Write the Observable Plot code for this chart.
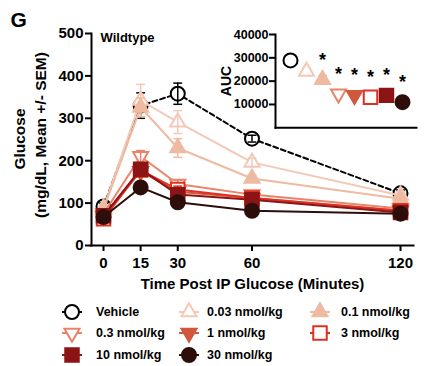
<!DOCTYPE html>
<html><head><meta charset="utf-8">
<script src="https://cdn.jsdelivr.net/npm/d3@7"></script>
<script src="https://cdn.jsdelivr.net/npm/@observablehq/plot@0.6"></script>
<style>
body{margin:0;background:#fff;font-family:"Liberation Sans",Arial,sans-serif;}
#wrap{position:relative;width:442px;height:366px;overflow:hidden;}
#main{position:absolute;left:0;top:0;}
#inset{position:absolute;left:215px;top:20px;}
#legend{position:absolute;left:0;top:298px;}
</style></head><body>
<div id="wrap"><div id="main"></div><div id="inset"></div><div id="legend"></div></div>
<script>
// ---- data ----
const times = [0, 15, 30, 60, 120];
const groups = ["Vehicle", "0.03 nmol/kg", "0.1 nmol/kg", "0.3 nmol/kg", "1 nmol/kg", "3 nmol/kg", "10 nmol/kg", "30 nmol/kg"];
const glucoseVehicle = [92, 330, 358, 252, 123];
const semVehicle     = [8, 30, 25, 8, 8];
const glucose003 = [88, 342, 291, 196, 118];
const sem003     = [6, 38, 27, 10, 8];
const glucose01  = [85, 326, 230, 158, 110];
const sem01      = [6, 22, 22, 8, 6];
const glucose03  = [75, 210, 145, 120, 87];
const sem03      = [5, 14, 10, 6, 5];
const glucose1   = [70, 175, 127, 112, 82];
const sem1       = [5, 10, 8, 5, 4];
const glucose3   = [63, 178, 132, 112, 82];
const sem3       = [5, 10, 8, 5, 4];
const glucose10  = [70, 180, 120, 108, 78];
const sem10      = [5, 10, 8, 5, 4];
const glucose30  = [67, 137, 102, 82, 75];
const sem30      = [4, 8, 6, 4, 4];
const aucMeans = [28900, 24200, 20600, 14600, 13900, 13100, 13900, 11000];
const aucSem   = [1500, 1500, 1800, 1200, 1000, 1000, 1000, 800];
const aucStar  = [false, false, true, true, true, true, true, true];
const yTicks = [0, 100, 200, 300, 400, 500];
const aucTicks = [10000, 20000, 30000, 40000];
const yLabelLines = ["Glucose", "(mg/dL, Mean +/- SEM)"];

const meansBy = [glucoseVehicle, glucose003, glucose01, glucose03, glucose1, glucose3, glucose10, glucose30];
const semsBy  = [semVehicle, sem003, sem01, sem03, sem1, sem3, sem10, sem30];

// ---- symbols ----
const S3 = Math.sqrt(3);
const invTriangle = {draw(ctx, size) {
  const y = -Math.sqrt(size / (S3 * 3));
  ctx.moveTo(0, -y * 2); ctx.lineTo(-S3 * y, y); ctx.lineTo(S3 * y, y); ctx.closePath();
}};
const upTriangle = {draw(ctx, size) {
  const y = -Math.sqrt(size / (S3 * 3));
  ctx.moveTo(0, y * 2); ctx.lineTo(-S3 * y, -y); ctx.lineTo(S3 * y, -y); ctx.closePath();
}};
const capSym = {draw(ctx, size) { const w = Math.sqrt(size); ctx.moveTo(-w / 2, 0); ctx.lineTo(w / 2, 0); }};

// ---- styles ----
const styles = [
  {color: "#000000", fill: "#ffffff", symbol: d3.symbolCircle, r: 7, dash: "5,3"},
  {color: "#f4c8b6", fill: "#ffffff", symbol: upTriangle, r: 5.6},
  {color: "#eebaa1", fill: "#eebaa1", symbol: upTriangle, r: 5.6},
  {color: "#e9836a", fill: "#ffffff", symbol: invTriangle, r: 5.6},
  {color: "#cf583d", fill: "#cf583d", symbol: invTriangle, r: 5.6},
  {color: "#e0301f", fill: "#ffffff", symbol: d3.symbolSquare, r: 7.6},
  {color: "#8d1415", fill: "#8d1415", symbol: d3.symbolSquare, r: 7.6},
  {color: "#2e0e0b", fill: "#2e0e0b", symbol: d3.symbolCircle, r: 7}
];
const FONT = "Liberation Sans, Arial, sans-serif";

// ---- main chart ----
const xDomain = [-4.85, 125.25];
const marks = [];
groups.forEach((g, gi) => {
  const st = styles[gi];
  const rows = times.map((t, i) => ({group: g, time: t, mean: meansBy[gi][i], sem: semsBy[gi][i]}));
  marks.push(Plot.line(rows, {x: "time", y: "mean", stroke: st.color, strokeWidth: 2, strokeDasharray: st.dash}));
  marks.push(Plot.dot(rows, {x: "time", y: "mean", symbol: st.symbol, r: st.r, fill: st.fill, stroke: st.color, strokeWidth: 2}));
  marks.push(Plot.ruleX(rows, {x: "time", y1: d => d.mean - d.sem, y2: d => d.mean + d.sem, stroke: st.color, strokeWidth: 1.5}));
  marks.push(Plot.dot(rows, {x: "time", y: d => d.mean + d.sem, symbol: capSym, r: 5, stroke: st.color, strokeWidth: 1.5}));
  marks.push(Plot.dot(rows, {x: "time", y: d => d.mean - d.sem, symbol: capSym, r: 5, stroke: st.color, strokeWidth: 1.5}));
});

const main = Plot.plot({
  width: 442, height: 366,
  marginTop: 33, marginBottom: 121, marginLeft: 91, marginRight: 29,
  x: {domain: xDomain},
  y: {domain: [0, 500]},
  style: {fontFamily: FONT, fontSize: "15px", fontWeight: "bold", color: "#000", background: "transparent", overflow: "visible"},
  marks: [
    Plot.axisY({ticks: yTicks, tickSize: 6, tickPadding: 2, strokeWidth: 2, label: null, tickFormat: "d"}),
    Plot.axisX({ticks: times, tickSize: 6, tickPadding: 6, strokeWidth: 2, label: null, tickFormat: "d"}),
    Plot.frame({anchor: "left", strokeWidth: 2}),
    Plot.frame({anchor: "bottom", strokeWidth: 2}),
    ...marks,
    Plot.text(["G"], {frameAnchor: "top-left", textAnchor: "start", lineAnchor: "middle", dx: -81, dy: -13, fontSize: 21}),
    Plot.text(["Wildtype"], {frameAnchor: "top-left", textAnchor: "start", lineAnchor: "middle", dx: 9, dy: 4, fontSize: 13}),
    Plot.text(["Time Post IP Glucose (Minutes)"], {frameAnchor: "bottom", lineAnchor: "middle", dy: 39, fontSize: 15})
  ]
});
document.getElementById("main").append(main);
// rotated two-line y-axis title
const yl = d3.select(main).append("g").attr("font-family", FONT).attr("font-weight", "bold").attr("font-size", 15.5).attr("text-anchor", "middle");
yl.append("text").attr("transform", "translate(20,139) rotate(-90)").attr("dy", "0.35em").text(yLabelLines[0]);
yl.append("text").attr("transform", "translate(41,135) rotate(-90)").attr("dy", "0.35em").text(yLabelLines[1]);

// ---- inset AUC ----
const aucRows = groups.map((g, i) => ({group: g, auc: aucMeans[i], sem: aucSem[i], star: aucStar[i]}));
const insetMarks = [];
groups.forEach((g, gi) => {
  const st = styles[gi];
  const r = [aucRows[gi]];
  insetMarks.push(Plot.ruleX(r, {x: "group", y1: d => d.auc - d.sem, y2: d => d.auc + d.sem, stroke: st.color, strokeWidth: 1.5}));
  insetMarks.push(Plot.dot(r, {x: "group", y: d => d.auc + d.sem, symbol: capSym, r: 5, stroke: st.color, strokeWidth: 1.5}));
  insetMarks.push(Plot.dot(r, {x: "group", y: d => d.auc - d.sem, symbol: capSym, r: 5, stroke: st.color, strokeWidth: 1.5}));
  insetMarks.push(Plot.dot(r, {x: "group", y: "auc", symbol: st.symbol, r: st.r, fill: st.fill, stroke: st.color, strokeWidth: 2}));
});
const inset = Plot.plot({
  width: 210, height: 120,
  marginTop: 14, marginBottom: 12.7, marginLeft: 60, marginRight: 9,
  x: {type: "point", domain: groups, padding: 0.72, axis: null},
  y: {domain: [0, 40000]},
  style: {fontFamily: FONT, fontSize: "12.5px", fontWeight: "bold", color: "#000", background: "transparent", overflow: "visible"},
  marks: [
    Plot.axisY({ticks: aucTicks, tickSize: 6, tickPadding: 1, strokeWidth: 2, label: null, tickFormat: "d"}),
    Plot.frame({anchor: "left", strokeWidth: 2}),
    Plot.frame({anchor: "bottom", strokeWidth: 2}),
    ...insetMarks,
    Plot.text(aucRows.filter(d => d.star), {x: "group", y: "auc", text: () => "*", dy: -20, fontSize: 18})
  ]
});
document.getElementById("inset").append(inset);
d3.select(inset).append("text").attr("transform", "translate(11,61) rotate(-90)").attr("dy", "0.35em")
  .attr("text-anchor", "middle").attr("font-family", FONT).attr("font-weight", "bold").attr("font-size", 14).text("AUC");

// ---- legend ----
const legendCols = [{sx: 72, tx: 96}, {sx: 189, tx: 207}, {sx: 320, tx: 341}];
const legendRows = [14, 35, 57];
const lsvg = d3.select("#legend").append("svg").attr("width", 442).attr("height", 68)
  .style("font-family", FONT).style("font-weight", "bold").style("font-size", "12.5px");
groups.forEach((g, gi) => {
  const st = styles[gi];
  const col = legendCols[gi % 3], y = legendRows[Math.floor(gi / 3)];
  const item = lsvg.append("g");
  item.append("line").attr("x1", col.sx - 10).attr("x2", col.sx + 10).attr("y1", y).attr("y2", y)
    .attr("stroke", st.color).attr("stroke-width", 2);
  item.append("path").attr("transform", `translate(${col.sx},${y})`)
    .attr("d", d3.symbol().type(st.symbol).size(Math.PI * st.r * st.r)())
    .attr("fill", st.fill).attr("stroke", st.color).attr("stroke-width", 2);
  item.append("text").attr("x", col.tx).attr("y", y).attr("dy", "0.35em").text(g);
});
</script>
</body></html>
